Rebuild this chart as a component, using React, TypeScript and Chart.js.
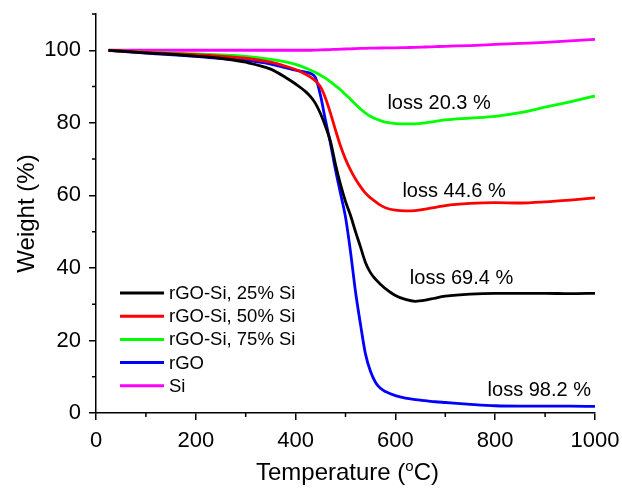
import React, { useEffect, useRef } from "react";
import { Chart, registerables } from "chart.js";

Chart.register(...registerables);

const FONT = '"Liberation Sans", Arial, Helvetica, sans-serif';

const temperatures = [25, 100, 200, 250, 300, 350, 380, 400, 420, 430, 440, 450, 460, 470, 480, 490, 500, 510, 520, 530, 540, 550, 560, 570, 580, 600, 620, 640, 660, 680, 700, 750, 800, 850, 900, 950, 1000];

const rgoSi25 = [100, 99.3, 98.4, 97.8, 96.7, 94.8, 92.5, 90.7, 88.6, 87.2, 85.3, 82.5, 79, 74.8, 68.5, 63, 58.3, 54.5, 50, 45.8, 41.5, 38.7, 36.9, 35.5, 34.3, 32.4, 31.3, 30.8, 31.1, 31.7, 32.2, 32.8, 33, 33, 33, 32.9, 33];
const rgoSi50 = [100, 99.4, 98.8, 98.4, 97.8, 96.7, 95.6, 94.7, 93.4, 92.6, 91.5, 89.9, 86.8, 82.6, 78, 73.6, 70, 67, 64.5, 62.4, 60.6, 59.3, 58.3, 57.3, 56.6, 55.9, 55.7, 55.8, 56.2, 56.7, 57.2, 57.8, 58, 57.9, 58.2, 58.7, 59.3];
const rgoSi75 = [100, 99.5, 99, 98.7, 98.3, 97.5, 96.8, 96.1, 95.1, 94.5, 93.9, 93.1, 92.3, 91.3, 90.2, 89.1, 87.8, 86.5, 85.1, 83.8, 82.7, 81.8, 81.1, 80.6, 80.2, 79.8, 79.7, 79.7, 80, 80.4, 80.8, 81.3, 81.8, 82.8, 84.3, 85.8, 87.4];
const rgo = [100, 99.2, 98.3, 97.7, 97.2, 96.2, 95.2, 94.5, 94, 93.6, 92.4, 87.5, 80.6, 74.2, 67, 60.5, 54, 44.5, 33.5, 24.5, 16.3, 11.5, 8.5, 6.8, 5.9, 4.8, 4.1, 3.7, 3.4, 3.1, 2.9, 2.4, 2.0, 1.9, 1.9, 1.9, 1.8];
const si = [100, 100, 100, 100, 100, 100, 100, 100, 100, 100, 100.05, 100.1, 100.15, 100.2, 100.25, 100.3, 100.35, 100.4, 100.45, 100.5, 100.55, 100.58, 100.6, 100.62, 100.64, 100.68, 100.74, 100.8, 100.9, 101, 101.1, 101.3, 101.6, 101.9, 102.2, 102.6, 103];

const seriesLabels = ["rGO-Si, 25% Si", "rGO-Si, 50% Si", "rGO-Si, 75% Si", "rGO", "Si"];
const seriesValues = [rgoSi25, rgoSi50, rgoSi75, rgo, si];
const seriesColors = ["#000000", "#ff0000", "#00ff00", "#0000ff", "#ff00ff"];

const lossLabels = ["loss 20.3 %", "loss 44.6 %", "loss 69.4 %", "loss 98.2 %"];
const lossX = [584, 614, 629, 992];
const lossY = [85.3, 61, 37.1, 6.2];
const lossAlign = ["left", "left", "left", "right"];

const xMajorStep = 200;
const yMajorStep = 20;
const xMinorTicks = [100, 300, 500, 700, 900];
const yMinorTicks = [10, 30, 50, 70, 90, 110];

const xTitleMain = "Temperature (";
const xTitleSup = "o";
const xTitleEnd = "C)";
const yTitle = "Weight (%)";

const decorPlugin = {
  id: "decor",
  afterDraw(chart: any) {
    const ctx = chart.ctx;
    const xs = chart.scales.x;
    const ys = chart.scales.y;
    const area = chart.chartArea;
    ctx.save();
    // minor ticks
    ctx.strokeStyle = "#000";
    ctx.lineWidth = 1.5;
    ctx.beginPath();
    xMinorTicks.forEach((v) => {
      const px = xs.getPixelForValue(v);
      ctx.moveTo(px, area.bottom);
      ctx.lineTo(px, area.bottom + 4);
    });
    yMinorTicks.forEach((v) => {
      const py = ys.getPixelForValue(v);
      ctx.moveTo(area.left - 4, py);
      ctx.lineTo(area.left, py);
    });
    ctx.stroke();

    // loss annotations
    ctx.fillStyle = "#000";
    ctx.font = `20px ${FONT}`;
    ctx.textBaseline = "middle";
    lossLabels.forEach((t, i) => {
      ctx.textAlign = lossAlign[i] as CanvasTextAlign;
      ctx.fillText(t, xs.getPixelForValue(lossX[i]), ys.getPixelForValue(lossY[i]));
    });

    // legend
    ctx.font = `18.5px ${FONT}`;
    ctx.textAlign = "left";
    const lx0 = area.left + 24;
    const lx1 = area.left + 68;
    const ly0 = area.bottom - 120;
    chart.data.datasets.forEach((ds: any, i: number) => {
      const y = ly0 + i * 23.2;
      ctx.strokeStyle = ds.borderColor;
      ctx.lineWidth = 3;
      ctx.beginPath();
      ctx.moveTo(lx0, y);
      ctx.lineTo(lx1, y);
      ctx.stroke();
      ctx.fillStyle = "#000";
      ctx.fillText(ds.label, lx1 + 5, y + 1);
    });

    // axis titles
    ctx.fillStyle = "#000";
    ctx.font = `24px ${FONT}`;
    const w1 = ctx.measureText(xTitleMain).width;
    const w3 = ctx.measureText(xTitleEnd).width;
    ctx.font = `15px ${FONT}`;
    const w2 = ctx.measureText(xTitleSup).width;
    const total = w1 + w2 + w3;
    const cx = (area.left + area.right) / 2 + 2;
    let x = cx - total / 2;
    const base = 480;
    ctx.textBaseline = "alphabetic";
    ctx.textAlign = "left";
    ctx.font = `24px ${FONT}`;
    ctx.fillText(xTitleMain, x, base);
    x += w1;
    ctx.font = `15px ${FONT}`;
    ctx.fillText(xTitleSup, x, base - 9);
    x += w2;
    ctx.font = `24px ${FONT}`;
    ctx.fillText(xTitleEnd, x, base);

    ctx.translate(27, (area.top + area.bottom) / 2);
    ctx.rotate(-Math.PI / 2);
    ctx.textAlign = "center";
    ctx.textBaseline = "middle";
    ctx.fillText(yTitle, 0, 0);
    ctx.restore();
  },
};

export default function App() {
  const ref = useRef<HTMLCanvasElement | null>(null);

  useEffect(() => {
    if (!ref.current) return;
    const datasets = seriesLabels.map((label, i) => ({
      label,
      data: temperatures.map((t, j) => ({ x: t, y: seriesValues[i][j] })),
      borderColor: seriesColors[i],
      backgroundColor: seriesColors[i],
      borderWidth: 2.8,
      pointRadius: 0,
      fill: false,
      cubicInterpolationMode: "monotone" as const,
    }));

    const chart = new Chart(ref.current, {
      type: "line",
      data: { datasets },
      options: {
        responsive: false,
        animation: false,
        layout: { padding: { top: 14, right: 27, left: 0, bottom: 0 } },
        plugins: {
          legend: { display: false },
          tooltip: { enabled: false },
        },
        scales: {
          x: {
            type: "linear",
            min: 0,
            max: 1000,
            border: { display: true, color: "#000", width: 1.5 },
            grid: {
              display: true,
              drawOnChartArea: false,
              drawTicks: true,
              tickLength: 7,
              color: "#000",
              lineWidth: 1.5,
            },
            ticks: {
              stepSize: xMajorStep,
              color: "#000",
              padding: 8,
              maxRotation: 0,
              font: { family: FONT, size: 22 },
              callback: (v: any) => String(v),
            },
            afterFit: (s: any) => {
              s.height = 83;
              s.paddingLeft = 0;
              s.paddingRight = 0;
            },
          },
          y: {
            type: "linear",
            min: 0,
            max: 110,
            border: { display: true, color: "#000", width: 1.5 },
            grid: {
              display: true,
              drawOnChartArea: false,
              drawTicks: true,
              tickLength: 7,
              color: "#000",
              lineWidth: 1.5,
            },
            ticks: {
              stepSize: yMajorStep,
              color: "#000",
              padding: 8,
              font: { family: FONT, size: 22 },
              callback: (v: any) => String(v),
            },
            afterBuildTicks: (s: any) => {
              s.ticks = s.ticks.filter((t: any) => t.value % yMajorStep === 0);
            },
            afterFit: (s: any) => {
              s.width = 96;
              s.paddingTop = 0;
              s.paddingBottom = 0;
            },
          },
        },
      },
      plugins: [decorPlugin],
    });
    return () => chart.destroy();
  }, []);

  return (
    <div style={{ position: "absolute", left: 0, top: 0, width: 622, height: 496, background: "#fff" }}>
      <canvas ref={ref} width={622} height={496} style={{ display: "block" }} />
    </div>
  );
}
